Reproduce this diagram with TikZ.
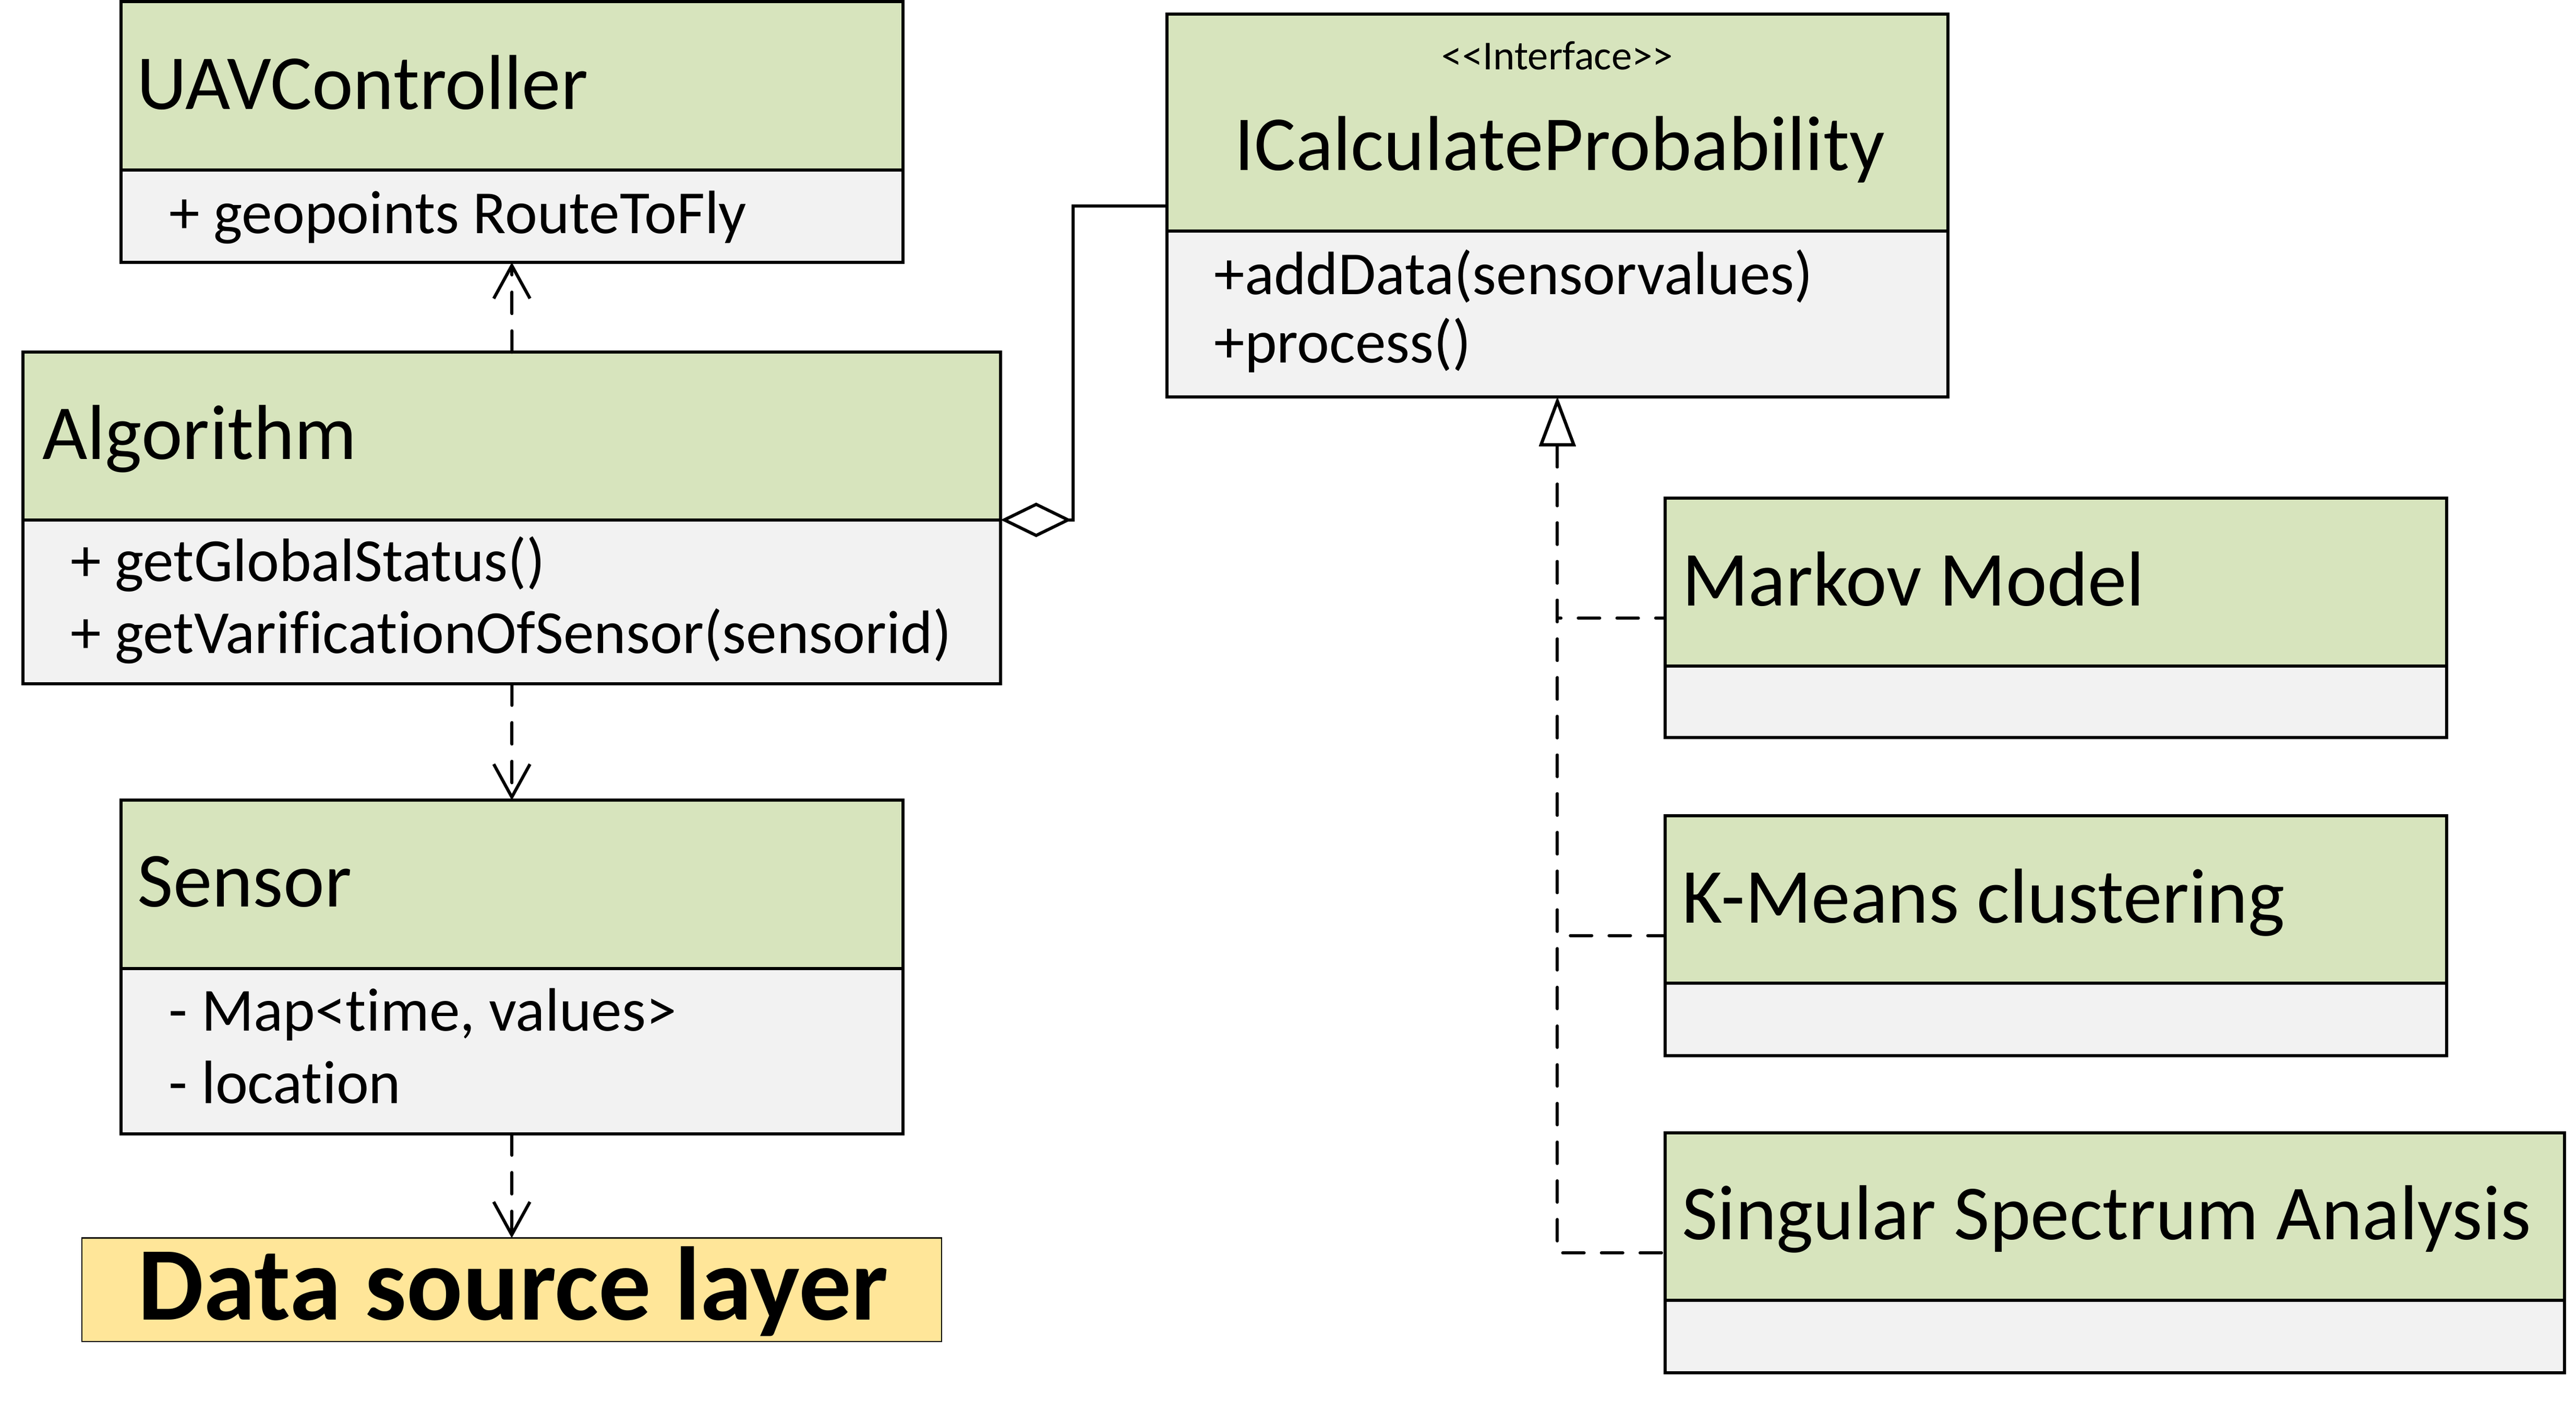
\documentclass[tikz,border=0pt]{standalone}
\usepackage{fontspec}
\setmainfont{Carlito}[Ligatures={NoCommon}]
\usetikzlibrary{arrows.meta}
\definecolor{hdrgreen}{HTML}{D7E4BD}
\definecolor{bodygray}{HTML}{F2F2F2}
\definecolor{srcorange}{HTML}{FFE699}
\tikzset{
  boxbase/.style={draw, line width=1.9pt, rectangle, inner sep=0pt, outer sep=0pt, anchor=north west},
  hdr/.style={boxbase, fill=hdrgreen},
  bdy/.style={boxbase, fill=bodygray},
  ttl/.style={anchor=base west, inner sep=0pt, font=\fontsize{47.3}{56}\selectfont},
  attr/.style={anchor=base west, inner sep=0pt, font=\fontsize{37.2}{44}\selectfont},
  dashline/.style={line width=1.9pt, dash pattern=on 13pt off 10.5pt, line cap=round},
  dep/.style={dashline, -{Straight Barb[length=20pt,width=22pt,line width=1.9pt]}},
  real/.style={dashline, {Triangle[open,length=30pt,width=22pt,line width=1.9pt,fill=white]}-},
  aggr/.style={line width=1.9pt, {Diamond[open,length=43pt,width=21pt,line width=1.9pt,fill=white]}-}
}
\begin{document}
\begin{tikzpicture}[x=1pt,y=-1pt]
\fill[white] (0,0) rectangle (1564,851.3);
\useasboundingbox (0,0) rectangle (1564,851.3);

% UAVController
\node[hdr, minimum width=474.7pt, minimum height=102pt] (uavH) at (73.4,1.1) {};
\node[bdy, minimum width=474.7pt, minimum height=56.2pt] (uavB) at (73.4,103.1) {};
\node[ttl] (uavT) at (83,66.5) {UAVController};
\node[attr] (uavA) at (102.5,141.7) {+ geopoints RouteToFly};

% Algorithm
\node[hdr, minimum width=593.6pt, minimum height=101.8pt] (algH) at (14,213.9) {};
\node[bdy, minimum width=593.6pt, minimum height=99.6pt] (algB) at (14,315.7) {};
\node[ttl] (algT) at (25.5,278.8) {Algorithm};
\node[attr] (algA1) at (42.7,352.9) {+ getGlobalStatus()};
\node[attr] (algA2) at (42.7,396.8) {+ getVarificationOfSensor(sensorid)};

% Sensor
\node[hdr, minimum width=474.7pt, minimum height=102pt] (senH) at (73.4,486) {};
\node[bdy, minimum width=474.7pt, minimum height=100.5pt] (senB) at (73.4,588) {};
\node[ttl] (senT) at (83.3,550.5) {Sensor};
\node[attr] (senA1) at (102.3,626) {- Map<time, values>};
\node[attr] (senA2) at (102.3,670) {- location};

% Data source layer
\node[draw, line width=0.8pt, fill=srcorange, rectangle, inner sep=0pt, outer sep=0pt, anchor=north west,
      minimum width=522pt, minimum height=62.8pt] (src) at (49.7,751.8) {};
\node[anchor=base, inner sep=0pt, font=\bfseries\fontsize{63.5}{76}\selectfont] (srcT) at (311.5,801.5) {Data source layer};

% ICalculateProbability
\node[hdr, minimum width=474.3pt, minimum height=131.9pt] (icH) at (708.4,8.5) {};
\node[bdy, minimum width=474.3pt, minimum height=100.6pt] (icB) at (708.4,140.4) {};
\node[anchor=base, inner sep=0pt, font=\fontsize{25}{30}\selectfont] (icS) at (945.6,42.4) {<\kern0pt<Interface>\kern0pt>};
\node[anchor=base, inner sep=0pt, font=\fontsize{47.3}{56}\selectfont] (icT) at (947,103.4) {ICalculateProbability};
\node[attr] (icA1) at (737,178.8) {+addData(sensorvalues)};
\node[attr] (icA2) at (737,220.3) {+process()};

% Markov Model
\node[hdr, minimum width=474.5pt, minimum height=101.9pt] (mkH) at (1011,302.4) {};
\node[bdy, minimum width=474.5pt, minimum height=43.7pt] (mkB) at (1011,404.3) {};
\node[ttl] (mkT) at (1021,368) {Markov Model};

% K-Means clustering
\node[hdr, minimum width=474.5pt, minimum height=101.7pt] (kmH) at (1011,495.3) {};
\node[bdy, minimum width=474.5pt, minimum height=43.9pt] (kmB) at (1011,597) {};
\node[ttl] (kmT) at (1021,560.3) {K-Means clustering};

% Singular Spectrum Analysis
\node[hdr, minimum width=546pt, minimum height=101.6pt] (ssH) at (1011,688) {};
\node[bdy, minimum width=546pt, minimum height=44.1pt] (ssB) at (1011,789.6) {};
\node[ttl] (ssT) at (1021,752.8) {Singular Spectrum Analysis};

% Dependencies
\draw[dep] (algH.north) -- (uavB.south);
\draw[dep] (algB.south) -- (senH.north);
\draw[dep] (senB.south) -- (src.north);

% Aggregation
\coordinate (aggS) at (algB.north east);
\coordinate (aggI) at ([yshift=-50.5pt]icH.west);
\draw[aggr] (aggS) -- ++(44,0) |- (aggI);

% Realizations
\foreach \n in {mkH,kmH,ssH}{
  \draw[real] (icB.south) |- ([yshift=-22pt]\n.west);
}
\end{tikzpicture}
\end{document}
